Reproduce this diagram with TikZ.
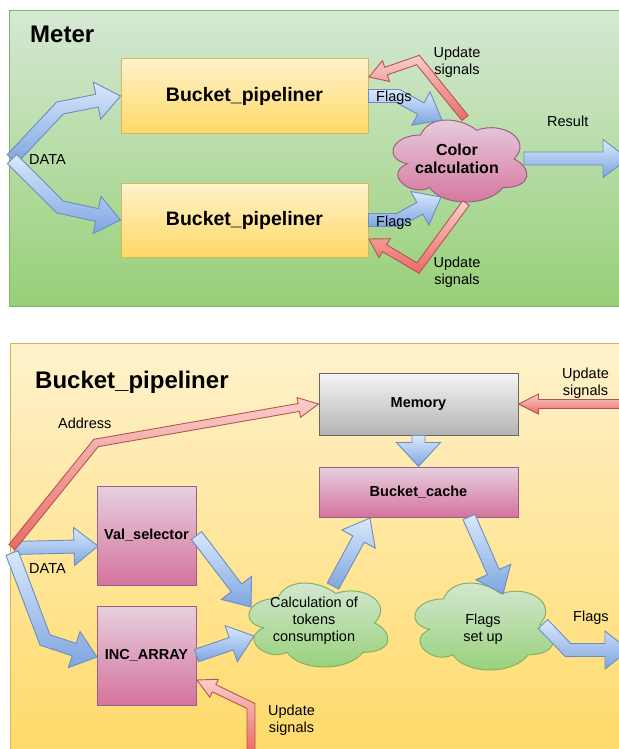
\documentclass[tikz,border=0pt]{standalone}
\usepackage{fontspec}
\setmainfont{Liberation Sans}
\usetikzlibrary{calc}

\definecolor{grnTop}{HTML}{D5E8D4}
\definecolor{grnBot}{HTML}{97D077}
\definecolor{grnLine}{HTML}{82B366}
\definecolor{ylwTop}{HTML}{FFF2CC}
\definecolor{ylwBot}{HTML}{FFD966}
\definecolor{ylwLine}{HTML}{D6B656}
\definecolor{pnkTop}{HTML}{E6D0DE}
\definecolor{pnkBot}{HTML}{D5739D}
\definecolor{pnkLine}{HTML}{996185}
\definecolor{gryTop}{HTML}{F5F5F5}
\definecolor{gryBot}{HTML}{B3B3B3}
\definecolor{gryLine}{HTML}{666666}
\definecolor{bluTop}{HTML}{DAE8FC}
\definecolor{bluBot}{HTML}{7EA6E0}
\definecolor{bluLine}{HTML}{6C8EBF}
\definecolor{redTop}{HTML}{F8CECC}
\definecolor{redBot}{HTML}{EA6B66}
\definecolor{redLine}{HTML}{B85450}

\tikzset{
  greenfill/.style={top color=grnTop, bottom color=grnBot, draw=grnLine, line width=1pt},
  yellowfill/.style={top color=ylwTop, bottom color=ylwBot, draw=ylwLine, line width=1pt},
  pinkfill/.style={top color=pnkTop, bottom color=pnkBot, draw=pnkLine, line width=1pt},
  grayfill/.style={top color=gryTop, bottom color=gryBot, draw=gryLine, line width=1pt},
  bluearrow/.style={top color=bluTop, bottom color=bluBot, draw=bluLine, line width=0.9pt, line join=miter},
  redarrow/.style={top color=redTop, bottom color=redBot, draw=redLine, line width=0.9pt, line join=miter},
  titletext/.style={font=\fontsize{24}{28}\selectfont\bfseries, inner sep=0pt},
  bigbox/.style={yellowfill, minimum width=247pt, minimum height=74pt, inner sep=0pt,
    font=\fontsize{19.5}{23}\selectfont\bfseries},
  smallbox/.style={minimum width=199pt, inner sep=0pt, font=\fontsize{14.5}{17}\selectfont\bfseries},
  squarebox/.style={pinkfill, minimum width=99pt, minimum height=99pt, inner sep=0pt,
    font=\fontsize{14.5}{17}\selectfont\bfseries},
  lbl/.style={font=\fontsize{14.5}{17}\selectfont, align=center, inner sep=0pt},
  cloudtext/.style={font=\fontsize{14.5}{17}\selectfont, align=center, inner sep=0pt},
}

% Cloud outline fitted to its visible extents: style, left, top, width, height
\newcommand\cloudpath[5]{%
  \pgfmathsetmacro\cw{#4/0.896}\pgfmathsetmacro\ch{#5/0.857}%
  \pgfmathsetmacro\cx{#2-0.065*\cw}\pgfmathsetmacro\cy{#3-0.093*\ch}%
  \begin{scope}[shift={(\cx,\cy)}]
  \begin{scope}[x=\cw pt, y=-\ch pt]
    \path[#1] (0.25,0.25) .. controls (0.05,0.25) and (0,0.5) .. (0.16,0.55)
      .. controls (0,0.66) and (0.18,0.9) .. (0.31,0.8)
      .. controls (0.4,1) and (0.7,1) .. (0.8,0.8)
      .. controls (1,0.8) and (1,0.6) .. (0.875,0.5)
      .. controls (1,0.3) and (0.8,0.1) .. (0.625,0.2)
      .. controls (0.5,0.05) and (0.3,0.05) .. (0.25,0.25) -- cycle;
  \end{scope}
  \end{scope}}

% Outlined wide arrow with one bend:
% style, half shaft width, half head width, head length, start, bend, tip
\newcommand\bentarrow[7]{%
  \coordinate (faD) at ($(#7)!#4!(#6)$);
  \coordinate (faAL) at ($(#5)!#2!90:(#6)$);
  \coordinate (faAR) at ($(#5)!#2!-90:(#6)$);
  \coordinate (faBLa) at ($(#6)!#2!-90:(#5)$);
  \coordinate (faBRa) at ($(#6)!#2!90:(#5)$);
  \coordinate (faBLb) at ($(#6)!#2!90:(faD)$);
  \coordinate (faBRb) at ($(#6)!#2!-90:(faD)$);
  \coordinate (faDL) at ($(faD)!#2!-90:(#6)$);
  \coordinate (faDR) at ($(faD)!#2!90:(#6)$);
  \coordinate (faHL) at ($(faD)!#3!-90:(#6)$);
  \coordinate (faHR) at ($(faD)!#3!90:(#6)$);
  \coordinate (faML) at (intersection of faAL--faBLa and faBLb--faDL);
  \coordinate (faMR) at (intersection of faAR--faBRa and faBRb--faDR);
  \path[#1] (faAL) -- (faML) -- (faDL) -- (faHL) -- (#7) -- (faHR) -- (faDR)
    -- (faMR) -- (faAR) -- cycle;}

% Outlined wide straight arrow: style, half shaft width, half head width, head length, start, tip
\newcommand\straightarrow[6]{%
  \coordinate (faD) at ($(#6)!#4!(#5)$);
  \coordinate (faAL) at ($(#5)!#2!90:(#6)$);
  \coordinate (faAR) at ($(#5)!#2!-90:(#6)$);
  \coordinate (faDL) at ($(faD)!#2!-90:(#5)$);
  \coordinate (faDR) at ($(faD)!#2!90:(#5)$);
  \coordinate (faHL) at ($(faD)!#3!-90:(#5)$);
  \coordinate (faHR) at ($(faD)!#3!90:(#5)$);
  \path[#1] (faAL) -- (faDL) -- (faHL) -- (#6) -- (faHR) -- (faDR) -- (faAR) -- cycle;}

\begin{document}
\begin{tikzpicture}[x=1pt,y=-1pt]
\useasboundingbox (0,0) rectangle (618,749);

% ---------------- Meter ----------------
\path[greenfill] (9.5,10.5) rectangle (640,306.5);
\node[titletext, anchor=base west] (meterTitle) at (30,43) {Meter};

\node[bigbox] (bp1) at (244.5,96) {Bucket\_pipeliner};
\node[bigbox] (bp2) at (244.5,220) {Bucket\_pipeliner};

\cloudpath{pinkfill}{393}{120}{134}{82}
\node[cloudtext, font=\fontsize{16}{18}\selectfont\bfseries] (cc) at (457,158.5) {Color\\calculation};

% connection points
\coordinate (mIn) at (12,159);
\coordinate (mUp) at (60,108);
\coordinate (mDn) at (60,207);
\coordinate (fBendA) at (398,96);
\coordinate (fBendB) at (398,220);
\coordinate (ccInA) at (442,120);
\coordinate (ccInB) at (441,197);
\coordinate (ccOut) at (524,158.5);
\coordinate (resEnd) at (628,158.5);
\coordinate (ccTop) at (465,118);
\coordinate (ccBot) at (466,203);
\coordinate (uBendA) at (418,60);
\coordinate (uBendB) at (418,268);
\coordinate (bp1Upd) at (369,77);
\coordinate (bp2Upd) at (369,239);

\bentarrow{bluearrow}{6.5pt}{19pt}{24pt}{mIn}{mUp}{bp1.west}
\bentarrow{bluearrow}{6.5pt}{19pt}{24pt}{mIn}{mDn}{bp2.west}
\bentarrow{bluearrow}{6.5pt}{19pt}{24pt}{bp1.east}{fBendA}{ccInA}
\bentarrow{bluearrow}{6.5pt}{19pt}{24pt}{bp2.east}{fBendB}{ccInB}
\straightarrow{bluearrow}{6.5pt}{19pt}{25pt}{ccOut}{resEnd}
\bentarrow{redarrow}{4pt}{11pt}{18pt}{ccTop}{uBendA}{bp1Upd}
\bentarrow{redarrow}{4pt}{11pt}{18pt}{ccBot}{uBendB}{bp2Upd}

\node[lbl, anchor=base west] (lData) at (29,164) {DATA};
\node[lbl, anchor=base west] (lFlagsA) at (376,102) {Flags};
\node[lbl, anchor=base west] (lFlagsB) at (376,226) {Flags};
\node[lbl, anchor=base west] (lResult) at (547,127) {Result};
\node[lbl] (lUpdA) at (457,62) {Update\\signals};
\node[lbl] (lUpdB) at (457,272) {Update\\signals};

% ---------------- Bucket_pipeliner ----------------
\path[yellowfill] (10,343) rectangle (640,770);
\node[titletext, anchor=base west] (bpTitle) at (35,388) {Bucket\_pipeliner};

\node[smallbox, grayfill, minimum height=62pt] (mem) at (418.5,404) {Memory};
\node[smallbox, pinkfill, minimum height=50pt] (bc) at (418.5,492) {Bucket\_cache};
\node[squarebox] (vs) at (146.5,535.5) {Val\_selector};
\node[squarebox] (inc) at (146.5,655.5) {INC\_ARRAY};

\cloudpath{greenfill}{249}{583}{139}{84}
\node[cloudtext] (calc) at (314,621) {Calculation of\\tokens\\consumption};
\cloudpath{greenfill}{415}{583}{138}{87}
\node[cloudtext] (fsu) at (483,629.5) {Flags\\set up};

% connection points
\coordinate (dInA) at (14,548);
\coordinate (dInB) at (12,553);
\coordinate (dBend) at (45,640);
\coordinate (vsIn) at (98,546);
\coordinate (incIn) at (97,657);
\coordinate (calcInA) at (251,607);
\coordinate (calcInB) at (254,636);
\coordinate (calcOut) at (333,586);
\coordinate (bcIn) at (370,518);
\coordinate (bcOut) at (469,517);
\coordinate (fsuIn) at (503,594);
\coordinate (fsuOut) at (543,624);
\coordinate (flBend) at (568,650);
\coordinate (flEnd) at (629,650);
\coordinate (aIn) at (12,547);
\coordinate (aBend) at (96,443);
\coordinate (uIn) at (622,404);
\coordinate (uBotIn) at (251,752);
\coordinate (uBotBend) at (251,706);
\coordinate (incUpd) at (197,680);

\straightarrow{bluearrow}{6.5pt}{22pt}{24pt}{mem.south}{bc.north}
\straightarrow{bluearrow}{6.5pt}{19pt}{24pt}{dInA}{vsIn}
\bentarrow{bluearrow}{6.5pt}{19pt}{24pt}{dInB}{dBend}{incIn}
\straightarrow{bluearrow}{6.5pt}{19pt}{24pt}{vs.east}{calcInA}
\straightarrow{bluearrow}{6.5pt}{19pt}{24pt}{inc.east}{calcInB}
\straightarrow{bluearrow}{6.5pt}{19pt}{24pt}{calcOut}{bcIn}
\straightarrow{bluearrow}{6.5pt}{19pt}{24pt}{bcOut}{fsuIn}
\bentarrow{bluearrow}{6.5pt}{19pt}{24pt}{fsuOut}{flBend}{flEnd}
\bentarrow{redarrow}{4pt}{10pt}{20pt}{aIn}{aBend}{mem.west}
\straightarrow{redarrow}{4.5pt}{10pt}{20pt}{uIn}{mem.east}
\bentarrow{redarrow}{4pt}{10pt}{19pt}{uBotIn}{uBotBend}{incUpd}

\node[lbl, anchor=base west] (lData2) at (29,573) {DATA};
\node[lbl, anchor=base west] (lAddr) at (58,428) {Address};
\node[lbl, anchor=base west] (lFlagsC) at (573,621) {Flags};
\node[lbl] (lUpdC) at (585.5,383) {Update\\signals};
\node[lbl] (lUpdD) at (291.5,720) {Update\\signals};

\end{tikzpicture}
\end{document}
